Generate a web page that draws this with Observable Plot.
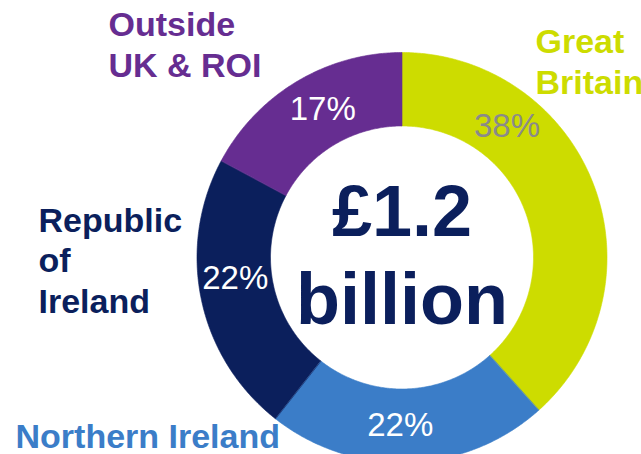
<!DOCTYPE html>
<html>
<head>
<meta charset="utf-8">
<script src="https://cdn.jsdelivr.net/npm/d3@7"></script>
<script src="https://cdn.jsdelivr.net/npm/@observablehq/plot@0.6"></script>
<style>
  html, body { margin: 0; padding: 0; background: #fff; }
  #chart svg { display: block; }
</style>
</head>
<body>
<div id="chart"></div>
<script>
// ---- data ----
const regions = ["Great Britain", "Northern Ireland", "Republic of Ireland", "Outside UK & ROI"];
const regionLabels = ["Great\nBritain", "Northern Ireland", "Republic\nof\nIreland", "Outside\nUK & ROI"];
const shares = [38, 22, 22, 17];
const totalLabel = "£1.2\nbillion";

// ---- styles / layout ----
const colors = ["#cddc00", "#3b7dc8", "#0b1f5c", "#662d91"];
const W = 641, H = 454;
const CX = 401.5, CY = 257, R0 = 131.5, R1 = 205, RL = 168;
const pctAt = [0.28, 0.53, 0.56, 0.545];            // position of % label along each slice
const namePlace = [[535, 93], [15, 447], [38, 312], [108, 76]]; // left x, last baseline
const FONT = "'Liberation Sans', Arial, Helvetica, sans-serif";

const total = d3.sum(shares);
let cum = 0;
const slices = regions.map((region, i) => {
  const a0 = cum / total * 2 * Math.PI;
  cum += shares[i];
  const a1 = cum / total * 2 * Math.PI;
  return {region, share: shares[i], a0, a1, i};
});

const pts = [];
for (const s of slices) {
  const n = Math.max(2, Math.ceil((s.a1 - s.a0) / (Math.PI / 360)));
  for (let k = 0; k <= n; k++) {
    const a = s.a0 + (s.a1 - s.a0) * k / n;
    pts.push({region: s.region, x: CX + R1 * Math.sin(a), y: CY - R1 * Math.cos(a)});
  }
  for (let k = n; k >= 0; k--) {
    const a = s.a0 + (s.a1 - s.a0) * k / n;
    pts.push({region: s.region, x: CX + R0 * Math.sin(a), y: CY - R0 * Math.cos(a)});
  }
}

const pctPos = slices.map(s => {
  const a = s.a0 + (s.a1 - s.a0) * pctAt[s.i];
  return {...s, px: CX + RL * Math.sin(a), py: CY - RL * Math.cos(a)};
});

const chart = Plot.plot({
  width: W,
  height: H,
  margin: 0,
  x: {domain: [0, W], range: [0, W], axis: null},
  y: {domain: [0, H], range: [0, H], axis: null},
  color: {domain: regions, range: colors},
  style: {fontFamily: FONT, background: "#fff", overflow: "hidden"},
  marks: [
    Plot.line(pts, {x: "x", y: "y", z: "region", fill: "region", stroke: "region", strokeWidth: 0.6, curve: "linear-closed"}),
    Plot.text(pctPos.filter(d => d.i === 0), {x: "px", y: "py", text: d => d.share + "%", fill: "#8a8a8a", fontSize: 33, fontFamily: FONT}),
    Plot.text(pctPos.filter(d => d.i !== 0), {x: "px", y: "py", text: d => d.share + "%", fill: "#ffffff", fontSize: 33, fontFamily: FONT}),
    Plot.text(slices, {
      x: d => namePlace[d.i][0], y: d => namePlace[d.i][1],
      text: d => regionLabels[d.i], fill: "region",
      textAnchor: "start", lineAnchor: "bottom", lineHeight: 1.18,
      fontSize: 34, fontWeight: "bold", fontFamily: FONT
    }),
    Plot.text([totalLabel], {
      x: CX, y: 323, text: d => d,
      textAnchor: "middle", lineAnchor: "bottom", lineHeight: 1.222,
      fill: "#0b1f5c", fontSize: 72, fontWeight: "bold", fontFamily: FONT
    })
  ]
});
document.getElementById("chart").append(chart);
</script>
</body>
</html>
